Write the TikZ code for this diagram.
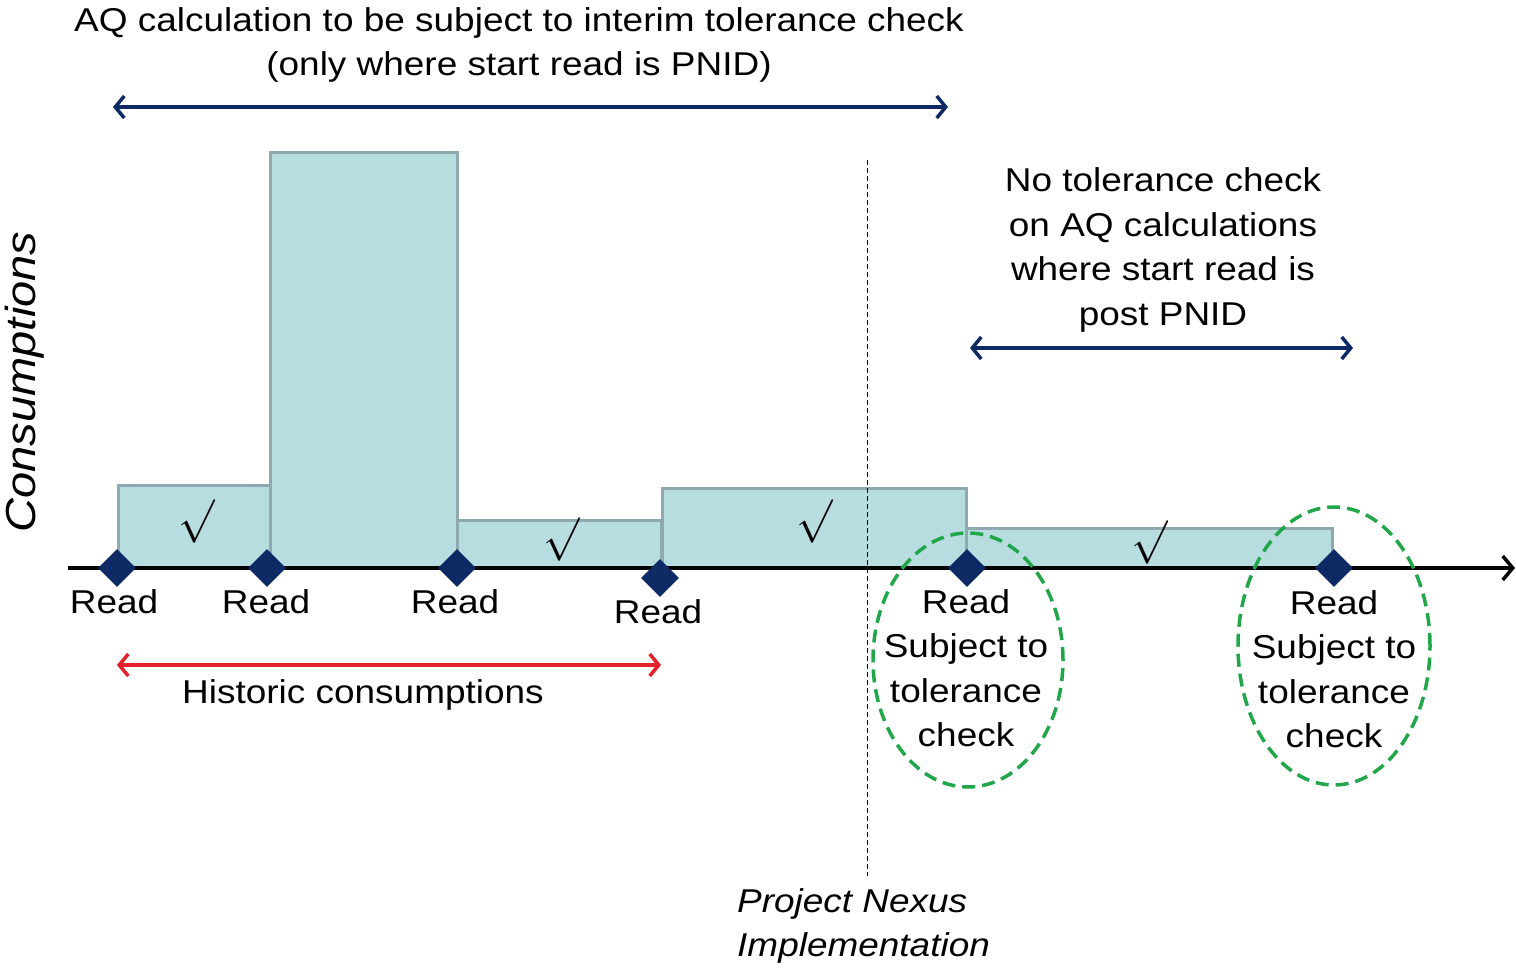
\documentclass[tikz,border=0pt]{standalone}
\usepackage{fontspec}
\setmainfont{Liberation Sans}[FakeStretch=1.12]
\usetikzlibrary{arrows.meta,shapes.geometric}
\definecolor{barfill}{HTML}{B8DDE1}
\definecolor{barline}{HTML}{8EAAB0}
\definecolor{navy}{HTML}{0E2A64}
\definecolor{arrred}{HTML}{E4202A}
\definecolor{dgreen}{HTML}{22A64A}
\tikzset{
  bar/.style={fill=barfill,draw=barline,line width=3pt},
  readpt/.style={diamond,fill=navy,minimum size=38pt,inner sep=0pt},
  lbl/.style={font=\fontsize{33}{44.5}\selectfont,align=center,inner sep=0pt},
  tick/.style={font=\fontsize{24.88}{25}\selectfont,inner sep=0pt,scale=1.75},
  span/.style={line width=3.5pt,{Straight Barb[length=9pt,width=22pt,line width=3.5pt]}-{Straight Barb[length=9pt,width=22pt,line width=3.5pt]}},
  zone/.style={draw=dgreen,line width=3.5pt,dash pattern=on 13pt off 7pt,ellipse},
}
\begin{document}
\begin{tikzpicture}[x=1pt,y=-1pt]
\useasboundingbox (0,0) rectangle (1516,971);
% bars
\draw[bar] (118,568) rectangle (270,485);
\draw[bar] (270,568) rectangle (457,153);
\draw[bar] (457,568) rectangle (661,520);
\draw[bar] (662,568) rectangle (966,488);
\draw[bar] (966,568) rectangle (1332,528);
% check marks
\node[tick] (t1) at (197,522) {$\surd$};
\node[tick] (t2) at (562,540) {$\surd$};
\node[tick] (t3) at (815,522) {$\surd$};
\node[tick] (t4) at (1150,543) {$\surd$};
% project nexus line
\coordinate (pnTop) at (867,160);
\coordinate (pnBot) at (867,876);
\draw[line width=1pt,dash pattern=on 5pt off 3pt] (pnTop) -- (pnBot);
% axis
\coordinate (axL) at (68,568);
\coordinate (axR) at (1515,568);
\draw[line width=3.5pt,-{Straight Barb[length=10pt,width=24pt,line width=3.5pt]}] (axL) -- (axR);
% reads
\node[readpt] (r1) at (117,568) {};
\node[readpt] (r2) at (267,568) {};
\node[readpt] (r3) at (457,568) {};
\node[readpt] (r4) at (660,578) {};
\node[readpt] (r5) at (967,568) {};
\node[readpt] (r6) at (1334,568) {};
\node[lbl] (l1) at (114,602) {Read};
\node[lbl] (l2) at (266,602) {Read};
\node[lbl] (l3) at (455,602) {Read};
\node[lbl] (l4) at (658,612) {Read};
\node[lbl,anchor=north] (l5) at (966,589) {Read\\Subject to\\tolerance\\check};
\node[lbl,anchor=north] (l6) at (1334,590) {Read\\Subject to\\tolerance\\check};
% dashed ellipses
\node[zone,minimum width=190pt,minimum height=254pt] (e1) at (968,660) {};
\node[zone,minimum width=192pt,minimum height=278pt] (e2) at (1334,646) {};
% top label and arrow
\node[lbl] (top) at (519,45) {AQ calculation to be subject to interim tolerance check\\(only where start read is PNID)};
\coordinate (aL) at (113,107);
\coordinate (aR) at (948,107);
\draw[span,navy] (aL) -- (aR);
% right label and arrow
\node[lbl] (right) at (1163,250) {No tolerance check\\on AQ calculations\\where start read is\\post PNID};
\coordinate (bL) at (970,348);
\coordinate (bR) at (1353,348);
\draw[span,navy] (bL) -- (bR);
% historic
\coordinate (hL) at (117,665);
\coordinate (hR) at (661,665);
\draw[span,arrred] (hL) -- (hR);
\node[lbl] (hist) at (363,695) {Historic consumptions};
% axis title
\node[lbl,font=\fontsize{42}{42}\selectfont\itshape,rotate=90] (ylab) at (25,382) {Consumptions};
% project nexus label
\node[lbl,align=left,anchor=north west] (pn) at (737,888) {\itshape Project Nexus\\\itshape Implementation};
\end{tikzpicture}
\end{document}
